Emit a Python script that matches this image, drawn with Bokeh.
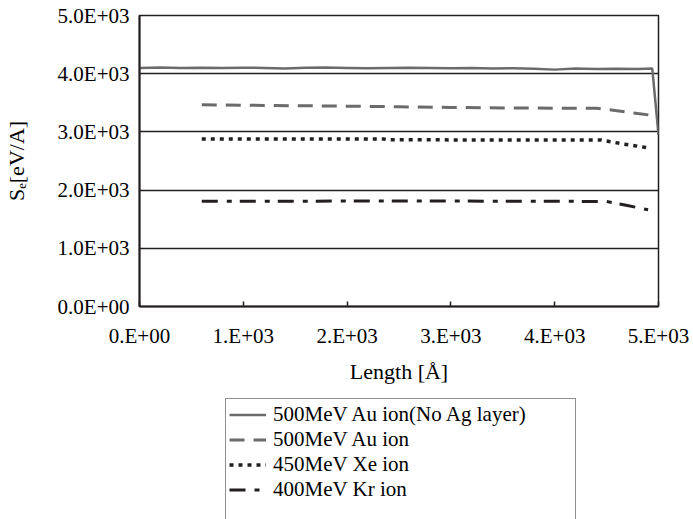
from bokeh.plotting import figure
from bokeh.layouts import column
from bokeh.models import Range1d, FixedTicker, Legend, LegendItem
from bokeh.embed import file_html
from bokeh.resources import INLINE

# ---------------- data ----------------
len_au_noag = [0, 200, 400, 600, 800, 1000, 1200, 1400, 1600, 1800, 2000, 2200, 2400,
               2600, 2800, 3000, 3200, 3400, 3600, 3800, 4000, 4200, 4400, 4600, 4800,
               4940, 5000]
se_au_noag = [4100, 4105, 4098, 4102, 4096, 4104, 4098, 4090, 4102, 4106, 4100, 4094, 4100,
              4104, 4098, 4092, 4098, 4090, 4094, 4086, 4070, 4088, 4080, 4086, 4082,
              4088, 2950]

len_au = [600, 1000, 1500, 2000, 2500, 3000, 3500, 4000, 4400, 4600, 4700, 4800, 4950]
se_au = [3465, 3458, 3450, 3442, 3432, 3420, 3412, 3408, 3405, 3365, 3338, 3315, 3282]

len_xe = [600, 1500, 2350, 2400, 3500, 4450, 4650, 4900]
se_xe = [2880, 2880, 2878, 2864, 2862, 2860, 2795, 2727]

len_kr = [600, 1500, 2500, 3500, 4500, 4700, 4900]
se_kr = [1810, 1810, 1812, 1810, 1805, 1735, 1662]

series_names = ["500MeV Au ion(No Ag layer)", "500MeV Au ion",
                "450MeV Xe ion", "400MeV Kr ion"]

x_ticks = [0, 1000, 2000, 3000, 4000, 5000]
x_tick_labels = ["0.E+00", "1.E+03", "2.E+03", "3.E+03", "4.E+03", "5.E+03"]
y_ticks = [0, 1000, 2000, 3000, 4000, 5000]
y_tick_labels = ["0.0E+00", "1.0E+03", "2.0E+03", "3.0E+03", "4.0E+03", "5.0E+03"]

x_title = "Length [Å]"
y_title = "Sₑ[eV/A]"

# ---------------- styles ----------------
FONT = "Liberation Serif"
DARK = "#231f20"
GRAY = "#6b6b6b"
styles = [dict(line_color=GRAY, line_width=2.5),
          dict(line_color=GRAY, line_width=3, line_dash="15 9"),
          dict(line_color=DARK, line_width=3.5, line_dash="4 5"),
          dict(line_color=DARK, line_width=3, line_dash="16 9 5 8")]

# ---------------- main chart ----------------
p = figure(width=693, height=390, output_backend="svg", toolbar_location=None,
           x_range=Range1d(0, 5000), y_range=Range1d(0, 5000),
           min_border_left=138, min_border_right=35, min_border_top=15,
           min_border_bottom=84)
p.background_fill_color = "white"
p.border_fill_color = "white"
p.outline_line_color = DARK
p.outline_line_width = 1.5
p.outline_line_alpha = 1.0

p.xgrid.visible = False
p.ygrid.ticker = FixedTicker(ticks=y_ticks)
p.ygrid.grid_line_color = DARK
p.ygrid.grid_line_width = 1.5
p.ygrid.grid_line_alpha = 1.0

xa = p.xaxis[0]
xa.ticker = FixedTicker(ticks=x_ticks)
xa.major_label_overrides = {t: l for t, l in zip(x_ticks, x_tick_labels)}
xa.axis_label = x_title
xa.axis_line_color = DARK
xa.axis_line_width = 2
xa.major_tick_line_color = DARK
xa.major_tick_line_width = 1.5
xa.major_tick_in = 5
xa.major_tick_out = 0
xa.minor_tick_line_color = None
xa.major_label_text_font = FONT
xa.major_label_text_font_size = "21px"
xa.major_label_text_color = "black"
xa.major_label_standoff = 17
xa.axis_label_text_font = FONT
xa.axis_label_text_font_size = "22px"
xa.axis_label_text_font_style = "normal"
xa.axis_label_text_color = "black"
xa.axis_label_standoff = 8

ya = p.yaxis[0]
ya.ticker = FixedTicker(ticks=y_ticks)
ya.major_label_overrides = {t: l for t, l in zip(y_ticks, y_tick_labels)}
ya.axis_label = y_title
ya.axis_line_color = DARK
ya.axis_line_width = 2
ya.major_tick_line_color = None
ya.major_tick_in = 0
ya.major_tick_out = 0
ya.minor_tick_line_color = None
ya.major_label_text_font = FONT
ya.major_label_text_font_size = "21px"
ya.major_label_text_color = "black"
ya.major_label_standoff = 10
ya.axis_label_text_font = FONT
ya.axis_label_text_font_size = "22px"
ya.axis_label_text_font_style = "normal"
ya.axis_label_text_color = "black"
ya.axis_label_standoff = 26

p.line(len_au_noag, se_au_noag, **styles[0])
p.line(len_au, se_au, **styles[1])
p.line(len_xe, se_xe, **styles[2])
p.line(len_kr, se_kr, **styles[3])

# ---------------- legend strip (cut off at the bottom, as in the reference) ----
q = figure(width=693, height=129, output_backend="svg", toolbar_location=None,
           x_range=Range1d(0, 1), y_range=Range1d(0, 1),
           x_axis_location=None, y_axis_location=None, min_border=0)
q.outline_line_color = None
q.xgrid.visible = False
q.ygrid.visible = False
q.background_fill_color = "white"
q.border_fill_color = "white"

# legend proxies: placed outside the visible range (never drawn)
proxies = [q.line([5, 6], [5, 6], **s) for s in styles]
blank = q.line([5, 6], [5, 6], line_alpha=0)
items = [LegendItem(label=n, renderers=[r]) for n, r in zip(series_names, proxies)]
items.append(LegendItem(label=" ", renderers=[blank]))

legend = Legend(items=items, location=(86, -4))
legend.label_text_font = FONT
legend.label_text_font_size = "21px"
legend.label_text_color = "black"
legend.label_height = 17
legend.label_width = 299
legend.glyph_height = 17
legend.glyph_width = 37
legend.label_standoff = 7
legend.spacing = 0
legend.padding = 3
legend.margin = 0
legend.border_line_color = DARK
legend.border_line_width = 1.5
legend.background_fill_color = "white"
legend.background_fill_alpha = 1.0
q.add_layout(legend, "center")

layout = column(p, q, spacing=0)
open("out.html", "w").write(file_html(layout, INLINE))
